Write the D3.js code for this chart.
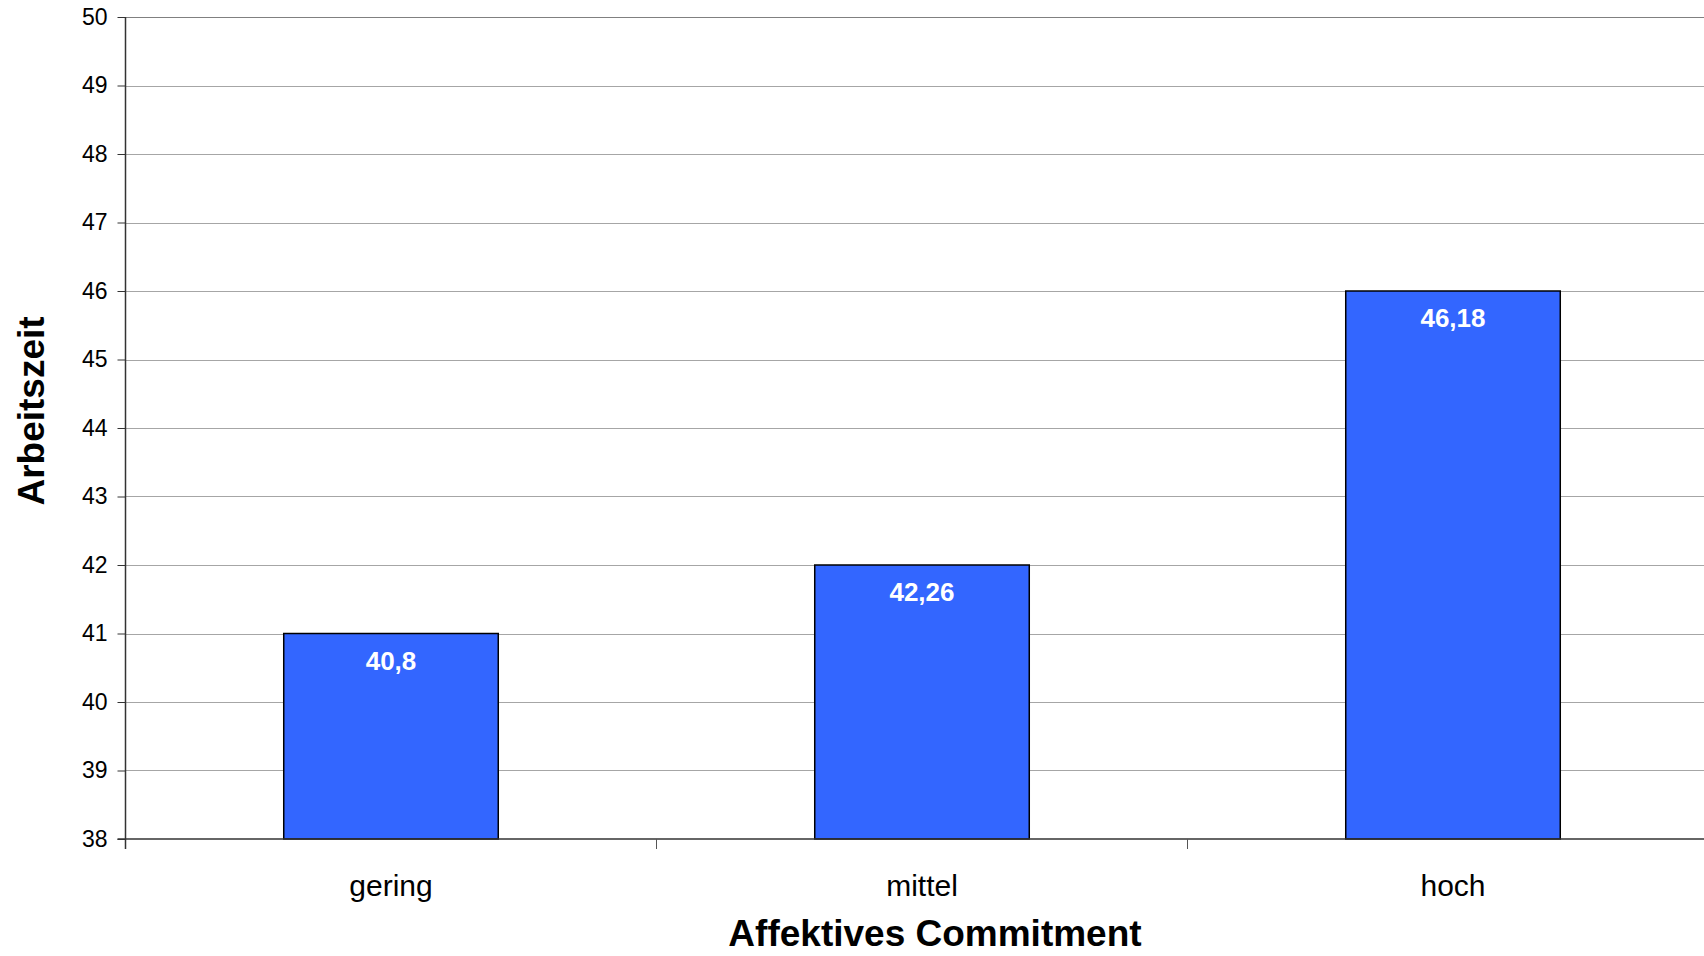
<!DOCTYPE html>
<html>
<head>
<meta charset="utf-8">
<script src="https://cdn.jsdelivr.net/npm/d3@7"></script>
<style>
  body { margin: 0; background: #fff; }
  svg { display: block; font-family: "Liberation Sans", Arial, sans-serif; }
</style>
</head>
<body>
<svg width="1704" height="956"></svg>
<script>
// data
let categories = ["gering", "mittel", "hoch"];
let barTops = [41, 42, 46];              // where the bars end on the axis
let barLabels = ["40,8", "42,26", "46,18"]; // printed labels
let yTicks = [38, 39, 40, 41, 42, 43, 44, 45, 46, 47, 48, 49, 50];

let svg = d3.select("svg");
let plotLeft = 125.5, plotTop = 17, plotBottom = 839;
let step = 531;

let x = d3.scaleBand()
    .domain(categories)
    .range([plotLeft, plotLeft + step * categories.length])
    .paddingInner(0.596)
    .paddingOuter(0.298);

let y = d3.scaleLinear()
    .domain([38, 50])
    .range([plotBottom, plotTop]);

// gridlines
svg.append("g")
    .selectAll("line")
    .data(yTicks.slice(1))
    .enter().append("line")
    .attr("x1", plotLeft)
    .attr("x2", 1704)
    .attr("y1", d => Math.round(y(d)) + 0.5)
    .attr("y2", d => Math.round(y(d)) + 0.5)
    .style("stroke", d => d === 50 ? "#808080" : "#a6a6a6")
    .style("stroke-width", 1);

// bars
let bars = svg.append("g");
bars.selectAll("rect")
    .data(categories)
    .enter().append("rect")
    .attr("x", d => x(d))
    .attr("y", (d, i) => y(barTops[i]))
    .attr("width", x.bandwidth())
    .attr("height", (d, i) => plotBottom - y(barTops[i]))
    .style("fill", "#3366ff")
    .style("stroke", "#000")
    .style("stroke-width", 1.5);

bars.selectAll("text")
    .data(categories)
    .enter().append("text")
    .attr("x", d => x(d) + x.bandwidth() / 2)
    .attr("y", (d, i) => y(barTops[i]) + 36)
    .attr("text-anchor", "middle")
    .style("font-weight", "bold")
    .style("font-size", "26px")
    .style("fill", "#fff")
    .text((d, i) => barLabels[i]);

// y axis
let yAxis = svg.append("g")
    .attr("transform", "translate(" + plotLeft + ",0)")
    .call(d3.axisLeft(y).tickValues(yTicks).tickSize(8).tickPadding(10).tickFormat(d3.format("d")));
yAxis.select(".domain").remove();
yAxis.selectAll(".tick line").style("stroke", "#333");
yAxis.selectAll("text")
    .style("font-size", "23px")
    .style("fill", "#000");
yAxis.attr("font-family", null).attr("font-size", null);
svg.append("line")
    .attr("x1", plotLeft).attr("x2", plotLeft)
    .attr("y1", plotTop).attr("y2", plotBottom + 10)
    .style("stroke", "#333").style("stroke-width", 1.5);

// x axis line and category ticks
svg.append("line")
    .attr("x1", plotLeft - 8).attr("x2", 1704)
    .attr("y1", plotBottom).attr("y2", plotBottom)
    .style("stroke", "#333").style("stroke-width", 1.5);
svg.append("g")
    .selectAll("line")
    .data(categories.slice(1))
    .enter().append("line")
    .attr("x1", d => x(d) - x.step() * x.paddingInner() / 2)
    .attr("x2", d => x(d) - x.step() * x.paddingInner() / 2)
    .attr("y1", plotBottom)
    .attr("y2", plotBottom + 10)
    .style("stroke", "#555").style("stroke-width", 1);

svg.append("g")
    .selectAll("text")
    .data(categories)
    .enter().append("text")
    .attr("x", d => x(d) + x.bandwidth() / 2)
    .attr("y", 896)
    .attr("text-anchor", "middle")
    .style("font-size", "30px")
    .text(d => d);

// titles
svg.append("text")
    .attr("x", 935)
    .attr("y", 946)
    .attr("text-anchor", "middle")
    .style("font-weight", "bold")
    .style("font-size", "37px")
    .text("Affektives Commitment");

svg.append("text")
    .attr("transform", "translate(44,411) rotate(-90)")
    .attr("text-anchor", "middle")
    .style("font-weight", "bold")
    .style("font-size", "37px")
    .text("Arbeitszeit");
</script>
</body>
</html>
